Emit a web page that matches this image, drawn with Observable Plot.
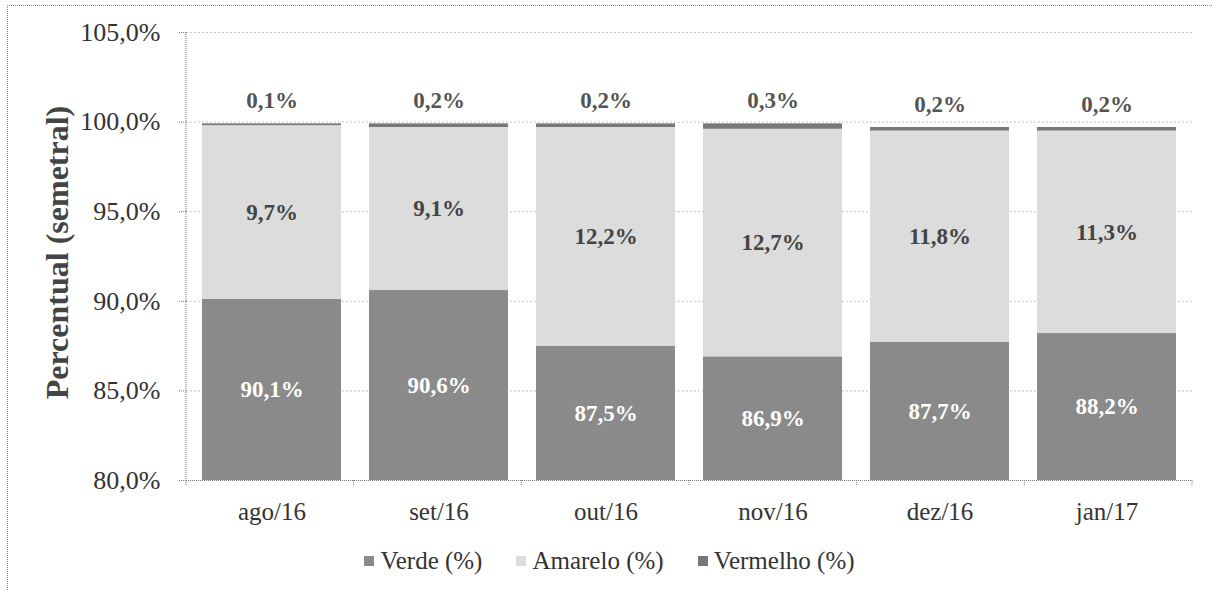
<!DOCTYPE html>
<html>
<head>
<meta charset="utf-8">
<script src="https://cdn.jsdelivr.net/npm/d3@7"></script>
<script src="https://cdn.jsdelivr.net/npm/@observablehq/plot@0.6"></script>
<style>
  html, body { margin: 0; padding: 0; background: #fff; overflow: hidden; width: 1213px; height: 591px; }
  #wrap { position: relative; width: 1213px; height: 591px; }
  #frame { position: absolute; left: 7px; top: 5px; width: 1400px; height: 800px; border-top: 1px dotted #888; border-left: 1px dotted #888; }
  #chart { position: absolute; left: 0; top: 0; }
  #legend { position: absolute; left: 0; top: 547px; width: 1213px; display: flex; justify-content: center; align-items: center;
            font-family: "Liberation Serif", "Times New Roman", "DejaVu Serif", serif; font-size: 25px; color: #333; padding-left: 6px; box-sizing: border-box; }
  .item { display: flex; align-items: center; margin: 0 17px; }
  .sw { width: 10px; height: 10px; margin-right: 6px; }
</style>
</head>
<body>
<div id="wrap">
  <div id="frame"></div>
  <div id="chart"></div>
  <div id="legend"></div>
</div>
<script>
const meses = ["ago/16", "set/16", "out/16", "nov/16", "dez/16", "jan/17"];
const verde = [90.1, 90.6, 87.5, 86.9, 87.7, 88.2];
const amarelo = [9.7, 9.1, 12.2, 12.7, 11.8, 11.3];
const vermelho = [0.1, 0.2, 0.2, 0.3, 0.2, 0.2];
const series = ["Verde (%)", "Amarelo (%)", "Vermelho (%)"];
const cores = ["#8a8a8a", "#dcdcdc", "#777777"];
const yDomain = [80, 105];
const yTicks = [80, 85, 90, 95, 100, 105];
const yLabel = "Percentual (semetral)";

const fmt = v => v.toFixed(1).replace(".", ",") + "%";

const data = meses.flatMap((m, i) => [
  {mes: m, serie: series[0], valor: verde[i]},
  {mes: m, serie: series[1], valor: amarelo[i]},
  {mes: m, serie: series[2], valor: vermelho[i]}
]);

const lblVerde = meses.map((m, i) => ({mes: m, y: (yDomain[0] + verde[i]) / 2, t: fmt(verde[i])}));
const lblAmarelo = meses.map((m, i) => ({mes: m, y: verde[i] + amarelo[i] / 2, t: fmt(amarelo[i])}));
const lblVermelho = meses.map((m, i) => ({mes: m, y: verde[i] + amarelo[i] + vermelho[i], t: fmt(vermelho[i])}));

const W = 1213, H = 535;
const ML = 186, MR = 21, MT = 32, MB = 55;
const FONT = "'Liberation Serif', 'Times New Roman', 'DejaVu Serif', serif";

// tick marks at band boundaries on the x axis
function bandBoundaryTicks(index, scales, values, dims) {
  const n = meses.length;
  const step = (dims.width - dims.marginLeft - dims.marginRight) / n;
  const y0 = dims.height - dims.marginBottom;
  const g = d3.create("svg:g");
  for (let k = 0; k <= n; k++) {
    const x = dims.marginLeft + k * step;
    g.append("line").attr("x1", x).attr("x2", x).attr("y1", y0).attr("y2", y0 + 6)
      .attr("stroke", "#777").attr("stroke-width", 1).attr("stroke-dasharray", "1,1");
  }
  return g.node();
}

const chart = Plot.plot({
  width: W,
  height: H,
  marginLeft: ML,
  marginRight: MR,
  marginTop: MT,
  marginBottom: MB,
  style: {fontFamily: FONT, background: "transparent", color: "#333"},
  x: {domain: meses, paddingInner: 0.165, paddingOuter: 0.0825, label: null},
  y: {domain: yDomain, label: null},
  color: {domain: series, range: cores},
  marks: [
    Plot.ruleY(yTicks.filter(d => d > yDomain[0]), {stroke: "#aaa", strokeDasharray: "1.5,2.5", strokeWidth: 1}),
    Plot.barY(data, Plot.stackY({x: "mes", y: "valor", fill: "serie", clip: true})),
    Plot.ruleY([yDomain[0]], {stroke: "#777", strokeDasharray: "1,1"}),
    Plot.axisY({ticks: yTicks, tickFormat: fmt, tickSize: 7, tickPadding: 19, fontSize: 26, stroke: "#777", fill: "#333", strokeDasharray: "1,1", label: null}),
    Plot.axisX({tickSize: 0, tickPadding: 22, fontSize: 25, fill: "#333", label: null}),
    bandBoundaryTicks,
    Plot.text([yLabel], {frameAnchor: "left", textAnchor: "middle", text: d => d, rotate: -90, dx: -129, dy: -4, fontSize: 32, fontWeight: "bold", fill: "#444"}),
    Plot.text(lblVerde, {x: "mes", y: "y", text: "t", fill: "#fff", fontSize: 23, fontWeight: "bold"}),
    Plot.text(lblAmarelo, {x: "mes", y: "y", text: "t", fill: "#444", fontSize: 23, fontWeight: "bold"}),
    Plot.text(lblVermelho, {x: "mes", y: "y", text: "t", fill: "#555", fontSize: 23, fontWeight: "bold", dy: -23})
  ]
});

// vertical y-axis line (dotted)
const svg = d3.select(chart);
svg.append("line")
  .attr("x1", ML).attr("x2", ML).attr("y1", MT).attr("y2", H - MB)
  .attr("stroke", "#777").attr("stroke-dasharray", "1,1");

document.getElementById("chart").appendChild(chart);

const legend = document.getElementById("legend");
series.forEach((s, i) => {
  const it = document.createElement("div");
  it.className = "item";
  const sw = document.createElement("div");
  sw.className = "sw";
  sw.style.background = cores[i];
  const tx = document.createElement("span");
  tx.textContent = s;
  it.appendChild(sw);
  it.appendChild(tx);
  legend.appendChild(it);
});
</script>
</body>
</html>
